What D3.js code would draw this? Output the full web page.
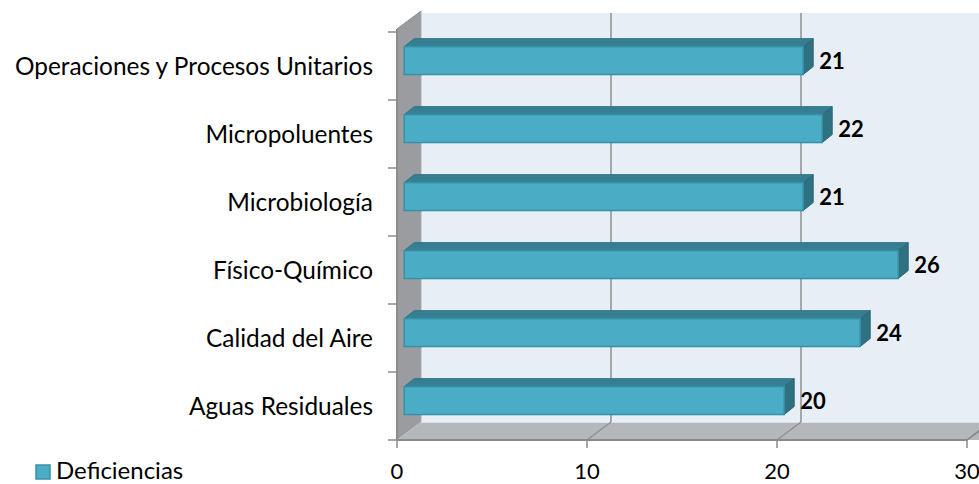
<!DOCTYPE html>
<html>
<head>
<meta charset="utf-8">
<script src="https://cdn.jsdelivr.net/npm/d3@7"></script>
<style>
  html, body { margin: 0; padding: 0; background: #ffffff; }
  svg { display: block; }
  text { font-family: Lato, "Open Sans", sans-serif; fill: #000; }
</style>
</head>
<body>
<svg id="chart" width="979" height="484"></svg>
<script>
// Categories, bottom to top as they appear on the axis
const categories = [
  "Aguas Residuales",
  "Calidad del Aire",
  "Físico-Químico",
  "Microbiología",
  "Micropoluentes",
  "Operaciones y Procesos Unitarios"
];
const deficiencias = [20, 24, 26, 21, 22, 21];
const seriesName = "Deficiencias";
const xTicks = [0, 10, 20, 30];

const W = 979, H = 484;
const svg = d3.select("#chart");

// Front plane of the 3-D box and its depth vector
const plotLeft = 397, plotRight = 967, plotTop = 30, plotBottom = 440;
const DX = 24, DY = -18;           // full depth of the box
const barZ = 0.3;                  // depth of the bar front face (fraction of box)
const barDX = 10, barDY = -8;      // bar thickness in depth

const x = d3.scaleLinear().domain([0, 30]).range([plotLeft, plotRight]);
const y = d3.scaleBand()
  .domain(categories.slice().reverse())
  .range([plotTop + 2, plotBottom])
  .paddingInner(0.59)
  .paddingOuter(0.295);
const step = y.step();

// projection of a point (value, screen y on the front plane, depth z)
const P = (px, py, z) => [px + DX * z, py + DY * z];

const g = svg.append("g");

// back wall
g.append("rect")
  .attr("x", plotLeft + DX).attr("y", plotTop + DY + 1)
  .attr("width", W - plotLeft).attr("height", plotBottom - plotTop)
  .attr("fill", "#e8eef5");

// grid lines on the back wall
xTicks.slice(1).forEach(t => {
  const fx = x(t);
  g.append("line")
    .attr("x1", fx + DX).attr("x2", fx + DX)
    .attr("y1", plotTop + DY + 1).attr("y2", plotBottom + DY)
    .attr("stroke", "#8f9092").attr("stroke-width", 1.5);
});

// side wall (left)
g.append("polygon")
  .attr("points", [[plotLeft, plotTop - 1], P(plotLeft, plotTop - 1, 1), P(plotLeft, plotBottom, 1), [plotLeft, plotBottom]].map(p => p.join(",")).join(" "))
  .attr("fill", "#9a9ca0");
g.append("line")
  .attr("x1", plotLeft + DX).attr("x2", plotLeft + DX)
  .attr("y1", plotTop - 1 + DY).attr("y2", plotBottom + DY)
  .attr("stroke", "#a9abaf").attr("stroke-width", 1);

// floor
g.append("polygon")
  .attr("points", [[plotLeft, plotBottom], P(plotLeft, plotBottom, 1), P(W + 30, plotBottom, 1), [W + 30, plotBottom]].map(p => p.join(",")).join(" "))
  .attr("fill", "#b5b8bb");
g.append("line")
  .attr("x1", plotLeft + DX).attr("x2", W)
  .attr("y1", plotBottom + DY + 0.5).attr("y2", plotBottom + DY + 0.5)
  .attr("stroke", "#dfe3e8").attr("stroke-width", 1);
xTicks.slice(1).forEach(t => {
  const fx = x(t);
  g.append("line")
    .attr("x1", fx).attr("y1", plotBottom)
    .attr("x2", fx + DX).attr("y2", plotBottom + DY)
    .attr("stroke", "#8f9092").attr("stroke-width", 1.5);
});

// axis lines
g.append("line")
  .attr("x1", plotLeft).attr("x2", plotRight)
  .attr("y1", plotBottom).attr("y2", plotBottom)
  .attr("stroke", "#8a8a8a").attr("stroke-width", 2);
g.append("line")
  .attr("x1", plotLeft).attr("x2", plotLeft)
  .attr("y1", plotTop - 1).attr("y2", plotBottom)
  .attr("stroke", "#8a8c90").attr("stroke-width", 2);
// side wall top edge
g.append("line")
  .attr("x1", plotLeft).attr("y1", plotTop - 1)
  .attr("x2", plotLeft + DX).attr("y2", plotTop - 1 + DY)
  .attr("stroke", "#8a8c90").attr("stroke-width", 1);
// floor right edge
g.append("line")
  .attr("x1", plotRight).attr("y1", plotBottom)
  .attr("x2", plotRight + DX).attr("y2", plotBottom + DY)
  .attr("stroke", "#8a8a8a").attr("stroke-width", 1.5);

// x ticks and labels
xTicks.forEach(t => {
  g.append("line")
    .attr("x1", x(t)).attr("x2", x(t))
    .attr("y1", plotBottom).attr("y2", plotBottom + 8)
    .attr("stroke", "#8a8a8a").attr("stroke-width", 1.5);
  g.append("text")
    .attr("x", x(t)).attr("y", 479)
    .attr("text-anchor", "middle")
    .attr("font-size", 22)
    .text(t);
});

// y ticks at category boundaries
d3.range(categories.length + 1).forEach(i => {
  const ty = plotTop + 2 + i * step;
  g.append("line")
    .attr("x1", plotLeft - 9).attr("x2", plotLeft)
    .attr("y1", ty).attr("y2", ty)
    .attr("stroke", "#8a8a8a").attr("stroke-width", 1.5);
});

// bars
const bars = g.append("g");
categories.forEach((c, i) => {
  const v = deficiencias[i];
  const bh = y.bandwidth();
  const [x0, yTop] = P(x(0), y(c), barZ);
  const x1 = P(x(v), 0, barZ)[0];
  const yBot = yTop + bh;
  // top face
  bars.append("polygon")
    .attr("points", [[x0, yTop], [x1, yTop], [x1 + barDX, yTop + barDY], [x0 + barDX, yTop + barDY]].map(p => p.join(",")).join(" "))
    .attr("fill", "#367f93").attr("stroke", "#2f7384").attr("stroke-width", 1);
  // end face
  bars.append("polygon")
    .attr("points", [[x1, yTop], [x1 + barDX, yTop + barDY], [x1 + barDX, yBot + barDY], [x1, yBot]].map(p => p.join(",")).join(" "))
    .attr("fill", "#2f7081").attr("stroke", "#2a6676").attr("stroke-width", 1);
  // front face
  bars.append("rect")
    .attr("x", x0).attr("y", yTop)
    .attr("width", x1 - x0).attr("height", bh)
    .attr("fill", "#4bacc6").attr("stroke", "#3890a7").attr("stroke-width", 1.5);
  // value label
  bars.append("text")
    .attr("x", x1 + barDX + 6).attr("y", yTop + bh / 2)
    .attr("dy", "0.36em")
    .attr("font-size", 22).attr("font-weight", "bold")
    .text(v);
});

// category labels
categories.forEach(c => {
  g.append("text")
    .attr("x", 373).attr("y", y(c) + y.bandwidth() / 2)
    .attr("dy", "0.36em")
    .attr("text-anchor", "end")
    .attr("font-size", 24.4)
    .text(c);
});

// legend
const lg = svg.append("g");
lg.append("rect")
  .attr("x", 36).attr("y", 465).attr("width", 14).attr("height", 14)
  .attr("fill", "#4bacc6").attr("stroke", "#3890a7").attr("stroke-width", 1.5);
lg.append("text")
  .attr("x", 56).attr("y", 479)
  .attr("font-size", 24)
  .text(seriesName);
</script>
</body>
</html>
